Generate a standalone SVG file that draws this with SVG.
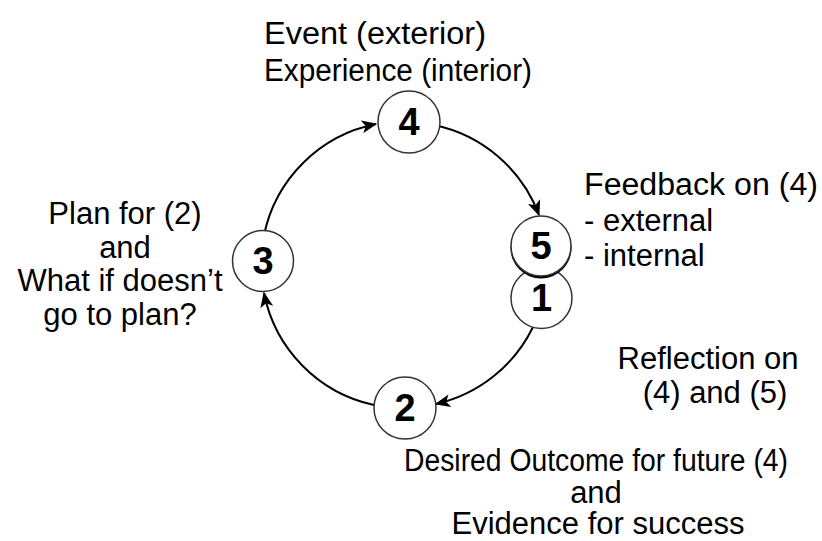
<svg xmlns="http://www.w3.org/2000/svg" width="822" height="541" viewBox="0 0 822 541">
<style>
  .lbl { font-family: "Liberation Sans", Arial, sans-serif; font-size: 31px; fill: #000; }
  .num { font-family: "Liberation Sans", Arial, sans-serif; font-size: 38px; font-weight: bold; fill: #000; text-anchor: middle; }
  .node { fill: #fff; stroke: #333; stroke-width: 1.5; }
  .conn { fill: none; stroke: #000; stroke-width: 2; }
</style>
<defs>
  <marker id="arr" viewBox="0 0 12 10" refX="11" refY="5" markerWidth="16" markerHeight="13" markerUnits="userSpaceOnUse" orient="auto">
    <path d="M0,0 L12,5 L0,10 L3,5 z" fill="#000"/>
  </marker>
</defs>
<rect width="822" height="541" fill="#fff"/>
<g id="connectors">
  <path class="conn" d="M264,235 A143,143 0 0 1 376,124" marker-end="url(#arr)"/>
  <path class="conn" d="M434,125 A143,143 0 0 1 539,215" marker-end="url(#arr)"/>
  <path class="conn" d="M533,327 A143,143 0 0 1 436,404" marker-end="url(#arr)"/>
  <path class="conn" d="M374,405 A143,143 0 0 1 264,293" marker-end="url(#arr)"/>
</g>
<g id="node4">
  <circle class="node" cx="409" cy="122" r="31"/>
  <text class="num" x="409" y="135">4</text>
</g>
<g id="node3">
  <circle class="node" cx="263" cy="261" r="30.5"/>
  <text class="num" x="263" y="274">3</text>
</g>
<g id="node2">
  <circle class="node" cx="405" cy="408" r="31"/>
  <text class="num" x="405" y="421">2</text>
</g>
<g id="node1">
  <circle class="node" cx="541.5" cy="298" r="30.5"/>
  <text class="num" x="541.5" y="311">1</text>
</g>
<g id="node5">
  <circle cx="541" cy="248" r="30.5" fill="#000"/>
  <circle class="node" cx="541" cy="246" r="30"/>
  <text class="num" x="541" y="259">5</text>
</g>
<g id="label4">
  <text class="lbl" x="264" y="44" textLength="222" lengthAdjust="spacingAndGlyphs">Event (exterior)</text>
  <text class="lbl" x="264" y="81" textLength="268" lengthAdjust="spacingAndGlyphs">Experience (interior)</text>
</g>
<g id="label5">
  <text class="lbl" x="584" y="195" textLength="234" lengthAdjust="spacingAndGlyphs">Feedback on (4)</text>
  <text class="lbl" x="584" y="231">- external</text>
  <text class="lbl" x="584" y="266">- internal</text>
</g>
<g id="label3">
  <text class="lbl" x="125" y="224" text-anchor="middle">Plan for (2)</text>
  <text class="lbl" x="125" y="258" text-anchor="middle">and</text>
  <text class="lbl" x="120" y="291" text-anchor="middle">What if doesn’t</text>
  <text class="lbl" x="120" y="325" text-anchor="middle">go to plan?</text>
</g>
<g id="label1">
  <text class="lbl" x="708" y="369" text-anchor="middle">Reflection on</text>
  <text class="lbl" x="715" y="403" text-anchor="middle">(4) and (5)</text>
</g>
<g id="label2">
  <text class="lbl" x="404" y="471" textLength="384" lengthAdjust="spacingAndGlyphs">Desired Outcome for future (4)</text>
  <text class="lbl" x="596" y="503" text-anchor="middle">and</text>
  <text class="lbl" x="598" y="534" text-anchor="middle">Evidence for success</text>
</g>
</svg>
